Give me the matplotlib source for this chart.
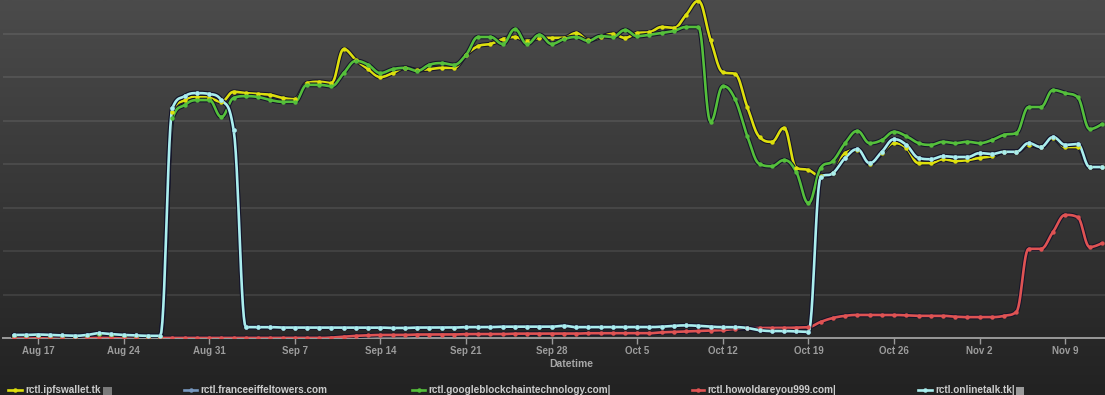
import numpy as np
import matplotlib
matplotlib.use("Agg")
import matplotlib.pyplot as plt
import matplotlib.dates as mdates
import matplotlib.patheffects as pe
from matplotlib.lines import Line2D
from matplotlib.patches import Rectangle
import pandas as pd

plt.rcParams['font.family'] = ['Liberation Sans', 'DejaVu Sans']

# ---------------- data ----------------
start_date = "2018-08-15"
n_days = 90

series_names = [
    "rctl.ipfswallet.tk",
    "rctl.franceeiffeltowers.com",
    "rctl.googleblockchaintechnology.com|",
    "rctl.howoldareyou999.com|",
    "rctl.onlinetalk.tk|",
]
series_colors = ["#DDDF0D", "#7798BF", "#55BF3B", "#DF5353", "#AAEEEE"]

ipfswallet = [
    0.05, 0.05, 0.05, 0.03, 0.02, 0.02, 0.05, 0.09, 0.07, 0.05, 0.03, 0.02, 0.02,
    5.20, 5.47, 5.54, 5.52, 5.43, 5.66, 5.63, 5.61, 5.59, 5.52, 5.49, 5.86, 5.89,
    5.86, 6.64, 6.39, 6.18, 6.00, 6.09, 6.21, 6.16, 6.18, 6.21, 6.21, 6.51, 6.71,
    6.76, 6.87, 6.92, 6.83, 6.90, 6.90, 6.90, 7.01, 6.85, 6.92, 6.99, 6.90, 7.01,
    7.03, 7.15, 7.13, 7.43, 7.75, 6.85, 6.11, 6.07, 5.31, 4.62, 4.51, 4.83, 3.91,
    3.86, 3.72, 3.79, 4.25, 4.32, 4.00, 4.25, 4.48, 4.37, 4.02, 4.02, 4.11, 4.07,
    4.09, 4.14, 4.18, 4.28, 4.28, 4.44, 4.39, 4.60, 4.39, 4.39, 3.93, 3.93,
]

googleblockchain = [
    0.05, 0.05, 0.05, 0.03, 0.02, 0.02, 0.05, 0.09, 0.07, 0.05, 0.03, 0.02, 0.02,
    5.06, 5.36, 5.47, 5.47, 5.08, 5.52, 5.56, 5.54, 5.47, 5.43, 5.43, 5.82, 5.82,
    5.79, 6.09, 6.37, 6.28, 6.09, 6.18, 6.21, 6.14, 6.28, 6.32, 6.28, 6.51, 6.92,
    6.92, 6.76, 7.10, 6.76, 6.97, 6.76, 6.87, 6.92, 6.83, 6.94, 6.92, 7.08, 6.94,
    6.97, 7.01, 7.06, 7.15, 7.15, 4.97, 5.79, 5.49, 4.64, 4.00, 3.95, 4.09, 3.82,
    3.10, 3.91, 4.07, 4.48, 4.76, 4.48, 4.55, 4.74, 4.64, 4.48, 4.44, 4.51, 4.48,
    4.51, 4.48, 4.55, 4.67, 4.71, 5.31, 5.31, 5.70, 5.63, 5.54, 4.80, 4.92,
]

howoldareyou = [
    0.00, 0.00, 0.00, 0.00, 0.00, 0.00, 0.00, 0.00, 0.00, 0.00, 0.00, 0.00, 0.00,
    0.00, 0.00, 0.00, 0.00, 0.00, 0.00, 0.00, 0.00, 0.00, 0.00, 0.00, 0.00, 0.00,
    0.01, 0.03, 0.05, 0.06, 0.07, 0.07, 0.07, 0.08, 0.08, 0.08, 0.08, 0.09, 0.09,
    0.09, 0.09, 0.10, 0.10, 0.10, 0.10, 0.10, 0.10, 0.11, 0.11, 0.11, 0.11, 0.11,
    0.11, 0.13, 0.14, 0.15, 0.16, 0.17, 0.18, 0.21, 0.22, 0.23, 0.23, 0.23, 0.24,
    0.25, 0.37, 0.46, 0.51, 0.53, 0.53, 0.53, 0.53, 0.52, 0.51, 0.51, 0.51, 0.49,
    0.48, 0.48, 0.48, 0.51, 0.60, 2.05, 2.05, 2.44, 2.83, 2.78, 2.09, 2.18,
]

onlinetalk = [
    0.07, 0.07, 0.08, 0.07, 0.06, 0.05, 0.07, 0.11, 0.09, 0.07, 0.06, 0.05, 0.05,
    5.29, 5.56, 5.63, 5.61, 5.47, 4.78, 0.25, 0.25, 0.25, 0.24, 0.24, 0.24, 0.24,
    0.24, 0.24, 0.24, 0.24, 0.24, 0.23, 0.23, 0.24, 0.24, 0.24, 0.24, 0.25, 0.25,
    0.25, 0.26, 0.26, 0.26, 0.26, 0.26, 0.28, 0.25, 0.25, 0.25, 0.25, 0.25, 0.25,
    0.25, 0.26, 0.28, 0.29, 0.28, 0.26, 0.25, 0.25, 0.23, 0.18, 0.16, 0.16, 0.15,
    0.14, 3.70, 3.79, 4.14, 4.34, 4.02, 4.28, 4.57, 4.44, 4.14, 4.11, 4.18, 4.16,
    4.16, 4.25, 4.23, 4.28, 4.28, 4.48, 4.39, 4.62, 4.44, 4.46, 3.93, 3.93,
]

# franceeiffeltowers is hidden beneath onlinetalk in the reference
franceeiffel = list(onlinetalk)

tick_labels = ["Aug 17", "Aug 24", "Aug 31", "Sep 7", "Sep 14", "Sep 21", "Sep 28",
               "Oct 5", "Oct 12", "Oct 19", "Oct 26", "Nov 2", "Nov 9"]
first_tick = "2018-08-17"

all_series = [ipfswallet, franceeiffel, googleblockchain, howoldareyou, onlinetalk]

# ---------------- helpers ----------------
def hc_spline(x, y, n=14):
    """Highcharts-style spline through the points."""
    x = np.asarray(x, float)
    y = np.asarray(y, float)
    N = len(x)
    lc = np.zeros((N, 2))
    rc = np.zeros((N, 2))
    s = 1.5
    d = s + 1
    for i in range(N):
        if i == 0 or i == N - 1:
            lc[i] = rc[i] = (x[i], y[i])
            continue
        lx = (s * x[i] + x[i - 1]) / d
        ly = (s * y[i] + y[i - 1]) / d
        rx = (s * x[i] + x[i + 1]) / d
        ry = (s * y[i] + y[i + 1]) / d
        if rx != lx:
            corr = ((ry - ly) * (rx - x[i])) / (rx - lx) + y[i] - ry
            ly += corr
            ry += corr
        if ly > y[i - 1] and ly > y[i]:
            ly = max(y[i - 1], y[i]); ry = 2 * y[i] - ly
        elif ly < y[i - 1] and ly < y[i]:
            ly = min(y[i - 1], y[i]); ry = 2 * y[i] - ly
        if ry > y[i + 1] and ry > y[i]:
            ry = max(y[i + 1], y[i]); ly = 2 * y[i] - ry
        elif ry < y[i + 1] and ry < y[i]:
            ry = min(y[i + 1], y[i]); ly = 2 * y[i] - ry
        lc[i] = (lx, ly)
        rc[i] = (rx, ry)
    t = np.linspace(0, 1, n)[:, None]
    pts = []
    for i in range(N - 1):
        p0 = np.array([x[i], y[i]]); p1 = rc[i]; p2 = lc[i + 1]; p3 = np.array([x[i + 1], y[i + 1]])
        seg = (1 - t) ** 3 * p0 + 3 * (1 - t) ** 2 * t * p1 + 3 * (1 - t) * t ** 2 * p2 + t ** 3 * p3
        pts.append(seg if i == 0 else seg[1:])
    pts = np.vstack(pts)
    return pts[:, 0], pts[:, 1]

W, H = 1105, 395
def fx(px):
    return px / W
def fy(py):
    return 1 - py / H

# ---------------- figure ----------------
fig = plt.figure(figsize=(W / 100, H / 100), dpi=100)

bg = fig.add_axes([0, 0, 1, 1], zorder=-10)
grad = np.linspace(0, 1, 256)[:, None]
top = np.array([75, 75, 75]) / 255.0
bot = np.array([34, 34, 34]) / 255.0
img = top[None, None, :] * (1 - grad[:, :, None]) + bot[None, None, :] * grad[:, :, None]
bg.imshow(img, aspect="auto", extent=[0, 1, 0, 1], origin="upper")
bg.set_axis_off()

axis_y = 338
grid_px = 43.5
left_px = 3
ax = fig.add_axes([fx(left_px), fy(axis_y), 1 - fx(left_px), axis_y / H])
ax.patch.set_alpha(0)

dates = pd.date_range(start_date, periods=n_days, freq="D")
xn = mdates.date2num(dates)

px_per_day = 12.23
first_px = 13.5
ax.set_xlim(xn[0] + (left_px - first_px) / px_per_day, xn[0] + (W - first_px) / px_per_day)
ax.set_ylim(0, axis_y / grid_px)

ax.set_yticks(np.arange(1, 8))
ax.set_yticklabels([])
ax.tick_params(axis="y", length=0)
ax.grid(False)
for gv in np.arange(1, 8):
    ax.axhline(gv, color="#ffffff", alpha=0.09, linewidth=1.4, zorder=1)

for sp in ["left", "top", "right"]:
    ax.spines[sp].set_visible(False)
ax.spines["bottom"].set_color("#9a9a9a")
ax.spines["bottom"].set_linewidth(1.4)

tick_dates = mdates.date2num(pd.date_range(first_tick, periods=len(tick_labels), freq="7D"))
ax.set_xticks(tick_dates)
ax.set_xticklabels(tick_labels, fontsize=7, fontweight="bold", color="#9c9c9c")
ax.tick_params(axis="x", length=4.5, width=1.0, color="#9a9a9a", pad=1.5)

for vals, col in zip(all_series, series_colors):
    sx, sy = hc_spline(xn, vals)
    ax.plot(sx, sy, color=col, linewidth=1.9, solid_capstyle="round", zorder=3,
            path_effects=[pe.Stroke(linewidth=3.4, foreground="#15152a"), pe.Normal()])
    ax.plot(xn, vals, linestyle="none", marker="o", markersize=3.2, color=col,
            markeredgewidth=0, zorder=4)

fig.text(fx(571), fy(364), "Datetime", ha="center", va="center", fontsize=7.5,
         fontweight="bold", color="#a8a8a8")

# legend
leg_y = 390
sym_x = [(8, 22), (184, 197), (412, 425), (692, 704), (918, 932)]
text_x = [25, 200, 428, 707, 935]
for (a, b), tx, name, col in zip(sym_x, text_x, series_names, series_colors):
    fig.add_artist(Line2D([fx(a), fx(b)], [fy(leg_y), fy(leg_y)], color=col, linewidth=1.9,
                          transform=fig.transFigure))
    fig.add_artist(Line2D([fx((a + b) / 2)], [fy(leg_y)], color=col, marker="o", markersize=3.2,
                          markeredgewidth=0, transform=fig.transFigure))
    fig.text(fx(tx), fy(leg_y), name, ha="left", va="center", fontsize=7.2,
             fontweight="bold", color="#cccccc")

fig.add_artist(Rectangle((fx(103), fy(395)), fx(9), 8 / H, transform=fig.transFigure,
                         color="#7a7a7a", linewidth=0))
fig.add_artist(Rectangle((fx(1016), fy(395)), fx(8), 8 / H, transform=fig.transFigure,
                         color="#9a9a9a", linewidth=0))

fig.savefig("out.png", dpi=100)
